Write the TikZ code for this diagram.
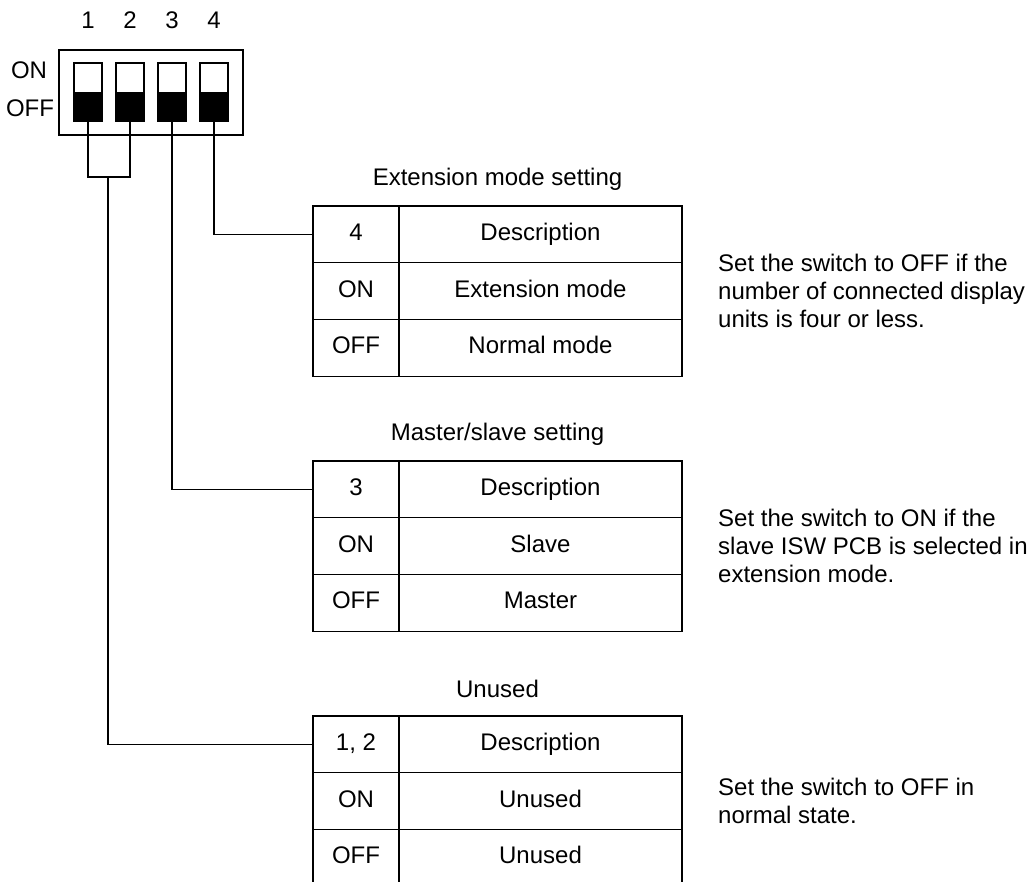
\documentclass[tikz,border=0pt]{standalone}
\usepackage{fontspec}
\setmainfont{Liberation Sans}
\usetikzlibrary{positioning,calc}

\tikzset{
  lbl/.style={font=\fontsize{24}{28}\selectfont},
  cellk/.style={draw, line width=1.1pt, lbl, minimum width=86pt, minimum height=56.7pt,
    text height=17pt, text depth=5pt, inner sep=0pt, outer sep=0pt, anchor=north west},
  celld/.style={cellk, minimum width=283pt},
  lever/.style={draw, line width=1.1pt, minimum width=28pt, minimum height=58pt, inner sep=0pt},
  wire/.style={line width=1.1pt},
  note/.style={lbl, align=left, anchor=west, inner sep=0pt}
}

\begin{document}
\begin{tikzpicture}[x=1pt, y=-1pt]
  \clip (0,0) rectangle (1031,882);
  % dip switch block
  \node[draw, line width=1.1pt, minimum width=184pt, minimum height=85pt, inner sep=0pt] (dip) at (151,92.5) {};
  \node[lbl] (on) at (29,70) {ON};
  \node[lbl] (off) at (30,108) {OFF};
  \foreach \n/\x in {1/88, 2/130, 3/172, 4/214} {
    \node[lever] (sw\n) at (\x,92) {};
    \fill (sw\n.west) rectangle (sw\n.south east);
    \node[lbl] (num\n) at (\x,20) {\n};
  }
  % setting tables
  \foreach \t/\top/\k/\on/\off/\ttl in {a/206/4/Extension mode/Normal mode/Extension mode setting,
      b/461/3/Slave/Master/{Master/slave setting}, c/716/{1, 2}/Unused/Unused/Unused} {
    \node[cellk] (key\t) at (313,\top) {\k};
    \node[celld] (desc\t) at (key\t.north east) {Description};
    \node[cellk, anchor=north] (kon\t) at (key\t.south) {ON};
    \node[celld] (don\t) at (kon\t.north east) {\on};
    \node[cellk, anchor=north] (koff\t) at (kon\t.south) {OFF};
    \node[celld] (doff\t) at (koff\t.north east) {\off};
    \node[lbl] (ttl\t) at ($(key\t.north west)!0.5!(desc\t.north east)+(0,-27)$) {\ttl};
  }
  % notes
  \node[note, right=36pt of dona] (notea) {Set the switch to OFF if the\\number of connected display\\units is four or less.};
  \node[note, right=36pt of donb] (noteb) {Set the switch to ON if the\\slave ISW PCB is selected in\\extension mode.};
  \node[note, right=36pt of donc] (notec) {Set the switch to OFF in\\normal state.};
  % wiring
  \coordinate (j) at (108,177);
  \draw[wire] (sw1.south) |- (j) -| (sw2.south);
  \draw[wire] (j) |- (keyc.west);
  \draw[wire] (sw3.south) |- (keyb.west);
  \draw[wire] (sw4.south) |- (keya.west);
\end{tikzpicture}
\end{document}
